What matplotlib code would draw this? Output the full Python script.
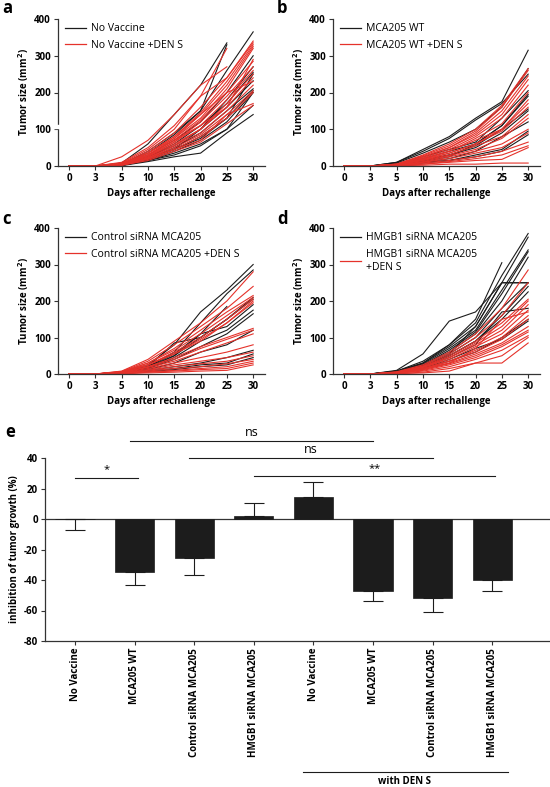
import numpy as np
import matplotlib
matplotlib.use("Agg")
import matplotlib.pyplot as plt
from matplotlib.lines import Line2D
from matplotlib.patches import Rectangle

plt.rcParams['font.family'] = ['Open Sans', 'DejaVu Sans']
plt.rcParams['axes.unicode_minus'] = False

nan = np.nan
days = ["0", "3", "5", "10", "15", "20", "25", "30"]

a_black = [
    [0,0,8,60,140,220,335,nan],
    [0,0,5,35,85,150,330,nan],
    [0,0,5,40,90,150,260,365],
    [0,0,4,30,70,120,200,300],
    [0,0,3,25,60,110,170,255],
    [0,0,3,25,55,100,160,232],
    [0,0,3,20,50,90,150,210],
    [0,0,2,18,45,80,130,205],
    [0,0,2,15,40,70,120,200],
    [0,0,2,15,35,60,100,165],
    [0,0,1,12,25,35,90,140],
    [0,0,2,15,30,55,100,200],
    [0,0,3,20,45,75,130,250],
    [0,0,3,20,45,100,180,270],
]
a_red = [
    [0,0,25,70,140,220,270,nan],
    [0,0,10,50,110,190,320,nan],
    [0,0,8,45,100,190,240,340],
    [0,0,6,40,90,160,240,335],
    [0,0,6,35,80,145,230,330],
    [0,0,5,35,80,140,220,325],
    [0,0,5,30,75,130,210,320],
    [0,0,5,30,70,125,200,285],
    [0,0,4,28,65,120,190,270],
    [0,0,4,25,65,110,180,260],
    [0,0,4,25,60,100,170,250],
    [0,0,3,22,55,100,160,240],
    [0,0,3,22,55,90,150,220],
    [0,0,3,20,50,85,140,205],
    [0,0,3,20,45,80,130,200],
    [0,0,2,18,45,70,140,170],
    [0,0,2,15,40,65,115,165],
    [0,0,5,35,75,140,200,230],
    [0,0,4,30,70,110,160,290],
]
b_black = [
    [0,0,10,45,80,130,175,315],
    [0,0,10,40,75,125,170,250],
    [0,0,8,35,65,100,160,265],
    [0,0,6,25,45,65,130,205],
    [0,0,5,20,40,60,110,195],
    [0,0,4,15,30,55,100,155],
    [0,0,4,15,30,50,90,150],
    [0,0,3,10,20,40,80,120],
    [0,0,3,10,15,30,45,95],
    [0,0,2,8,15,25,40,85],
    [0,0,3,12,25,60,110,190],
]
b_red = [
    [0,0,5,30,60,100,165,265],
    [0,0,5,28,55,95,160,260],
    [0,0,5,25,50,90,150,245],
    [0,0,4,25,50,85,140,235],
    [0,0,4,22,45,80,130,220],
    [0,0,4,20,40,75,115,200],
    [0,0,3,18,40,70,100,180],
    [0,0,3,18,35,60,100,170],
    [0,0,3,15,35,60,95,160],
    [0,0,3,15,30,55,80,140],
    [0,0,2,12,28,45,75,130],
    [0,0,2,10,25,40,60,100],
    [0,0,2,10,20,35,50,90],
    [0,0,2,8,15,25,40,65],
    [0,0,1,5,12,20,30,55],
    [0,0,1,5,10,15,18,50],
    [0,0,1,2,5,5,8,8],
]
c_black = [
    [0,0,5,25,80,170,230,300],
    [0,0,5,20,60,140,220,285],
    [0,0,4,20,55,110,185,nan],
    [0,0,4,18,50,100,150,205],
    [0,0,4,18,50,110,130,190],
    [0,0,3,15,45,90,120,175],
    [0,0,3,15,40,75,110,165],
    [0,0,3,12,30,60,80,120],
    [0,0,2,10,20,30,45,65],
    [0,0,2,8,15,25,30,55],
    [0,0,1,6,12,20,25,45],
    [0,0,4,20,85,100,150,210],
]
c_red = [
    [0,0,8,40,90,140,200,280],
    [0,0,7,35,80,130,180,240],
    [0,0,6,30,70,120,170,215],
    [0,0,6,30,65,110,160,210],
    [0,0,5,25,60,100,150,205],
    [0,0,5,25,55,95,140,200],
    [0,0,4,20,45,75,100,125],
    [0,0,4,20,40,70,95,120],
    [0,0,4,18,35,60,85,110],
    [0,0,3,15,30,45,60,80],
    [0,0,3,12,25,35,45,60],
    [0,0,2,10,20,28,35,50],
    [0,0,2,8,15,20,28,40],
    [0,0,2,6,10,15,20,35],
    [0,0,1,5,8,12,15,30],
    [0,0,1,3,5,8,10,25],
    [0,0,5,25,55,90,140,195],
]
d_black = [
    [0,0,10,55,145,170,250,250],
    [0,0,8,35,80,150,305,nan],
    [0,0,8,30,80,140,270,385],
    [0,0,7,30,75,130,250,375],
    [0,0,6,28,70,120,230,340],
    [0,0,6,25,65,115,220,335],
    [0,0,5,25,60,110,200,320],
    [0,0,5,22,55,100,180,250],
    [0,0,4,20,50,90,160,240],
    [0,0,4,20,50,90,150,225],
    [0,0,3,18,45,80,170,180],
    [0,0,3,15,35,60,100,150],
    [0,0,3,15,40,70,95,145],
    [0,0,4,20,55,130,250,250],
]
d_red = [
    [0,0,6,25,60,110,180,285],
    [0,0,5,22,55,100,160,250],
    [0,0,5,20,50,90,140,205],
    [0,0,4,20,45,85,130,200],
    [0,0,4,18,45,80,120,190],
    [0,0,4,18,40,75,110,175],
    [0,0,3,15,35,65,100,160],
    [0,0,3,15,35,60,95,150],
    [0,0,3,12,30,55,85,130],
    [0,0,2,12,28,50,80,120],
    [0,0,2,10,25,45,75,115],
    [0,0,2,8,20,40,65,105],
    [0,0,1,5,15,30,30,85],
    [0,0,1,3,8,30,50,100],
    [0,0,3,15,30,70,150,170],
]

groups = ["No Vaccine", "MCA205 WT", "Control siRNA MCA205", "HMGB1 siRNA MCA205",
          "No Vaccine", "MCA205 WT", "Control siRNA MCA205", "HMGB1 siRNA MCA205"]
means = [0, -35, -25.5, 2, 14.5, -47.5, -52, -40]
errs = [7.5, 8, 11, 8.5, 9.5, 6.5, 9, 7.5]

BLACK = "#1c1c1c"
RED = "#e5322b"
W, H = 550, 787
fig = plt.figure(figsize=(W/100, H/100), dpi=100)

def fr(x0, y0, x1, y1):
    return [x0/W, 1 - y1/H, (x1-x0)/W, (y1-y0)/H]

def line_panel(rect, black, red, lab_b, lab_r, letter, lpos):
    ax = fig.add_axes(fr(*rect))
    x = np.arange(len(days))
    for s in black:
        ax.plot(x, s, color=BLACK, lw=0.8)
    for s in red:
        ax.plot(x, s, color=RED, lw=0.8)
    ax.set_xlim(-0.42, 7.45)
    ax.set_ylim(0, 400)
    ax.set_xticks(x)
    ax.set_xticklabels(days)
    ax.set_yticks([0, 100, 200, 300, 400])
    for sp in ["top", "right"]:
        ax.spines[sp].set_visible(False)
    for sp in ["left", "bottom"]:
        ax.spines[sp].set_linewidth(0.9)
        ax.spines[sp].set_color("#333333")
    ax.tick_params(length=3, width=0.8, labelsize=7, pad=2, color="#333333")
    for t in ax.get_xticklabels() + ax.get_yticklabels():
        t.set_fontweight("bold")
    ax.set_xlabel("Days after rechallenge", fontsize=7, fontweight="bold", labelpad=3)
    ax.set_ylabel("Tumor size (mm$^\\mathbf{2}$)", fontsize=7, fontweight="bold", labelpad=2)
    handles = [Line2D([], [], color=BLACK, lw=0.9), Line2D([], [], color=RED, lw=0.9)]
    ax.legend(handles, [lab_b, lab_r], loc="upper left", bbox_to_anchor=(0.0, 1.02),
              frameon=False, fontsize=7.5, handlelength=2.0, handletextpad=0.5,
              labelspacing=0.55, borderaxespad=0.3)
    fig.text(lpos[0]/W, 1 - lpos[1]/H, letter, fontsize=12, fontweight="bold",
             ha="left", va="center")
    return ax

axa = line_panel((58, 19, 265, 166), a_black, a_red, "No Vaccine", "No Vaccine +DEN S", "a", (2, 8))
# axis break on panel a
axa.add_patch(Rectangle((-0.6, 104), 0.4, 7, transform=axa.transData, color="white",
                        clip_on=False, zorder=5))
line_panel((333, 19, 540, 166), b_black, b_red, "MCA205 WT", "MCA205 WT +DEN S", "b", (277, 8))
line_panel((58, 228, 265, 374), c_black, c_red, "Control siRNA MCA205", "Control siRNA MCA205 +DEN S", "c", (2, 219))
line_panel((333, 228, 540, 374), d_black, d_red, "HMGB1 siRNA MCA205", "HMGB1 siRNA MCA205\n+DEN S", "d", (277, 219))

# panel e
axe = fig.add_axes(fr(45, 458, 550, 641))
xe = np.arange(len(groups))
means_a = np.array(means)
errs_a = np.array(errs)
axe.bar(xe, means_a, width=0.66, color=BLACK, edgecolor=BLACK, linewidth=0.5, zorder=3)
lower = np.where(means_a < 0, errs_a, 0)
upper = np.where(means_a >= 0, errs_a, 0)
lower[0] = errs_a[0]
upper[0] = 0
axe.errorbar(xe, means_a, yerr=[lower, upper], fmt="none", ecolor=BLACK, elinewidth=0.8,
             capsize=7, capthick=0.8, zorder=2)
axe.axhline(0, color="#333333", lw=0.9, zorder=1)
axe.set_xlim(-0.504, 7.97)
axe.set_ylim(-80, 40)
axe.set_yticks([40, 20, 0, -20, -40, -60, -80])
axe.set_xticks(xe)
axe.set_xticklabels(groups, rotation=90, fontsize=7, fontweight="bold")
for sp in ["top", "right"]:
    axe.spines[sp].set_visible(False)
for sp in ["left", "bottom"]:
    axe.spines[sp].set_linewidth(0.9)
    axe.spines[sp].set_color("#333333")
axe.tick_params(length=3, width=0.8, labelsize=7, pad=2, color="#333333")
for t in axe.get_yticklabels():
    t.set_fontweight("bold")
axe.set_ylabel("inhibition of tumor growth (%)", fontsize=7, fontweight="bold", labelpad=3)

# significance bars
sig = [(0, 1.05, 27, "*"), (0.92, 5, 51, "ns"), (1.92, 6, 40, "ns"), (3, 7.05, 28, "**")]
for x0, x1, yv, txt in sig:
    axe.plot([x0, x1], [yv, yv], color=BLACK, lw=0.8, clip_on=False)
    axe.text((x0 + x1) / 2, yv + 1.5, txt, ha="center", va="bottom",
             fontsize=9 if txt == "ns" else 8, clip_on=False)

fig.text(5/W, 1 - 432/H, "e", fontsize=12, fontweight="bold", ha="left", va="center")

# with DEN S bracket
fig.add_artist(Line2D([303/W, 508/W], [1 - 772/H, 1 - 772/H], color=BLACK, lw=0.8))
fig.text(405/W, 1 - 781/H, "with DEN S", ha="center", va="center", fontsize=7, fontweight="bold")

fig.savefig("out.png", dpi=100)
